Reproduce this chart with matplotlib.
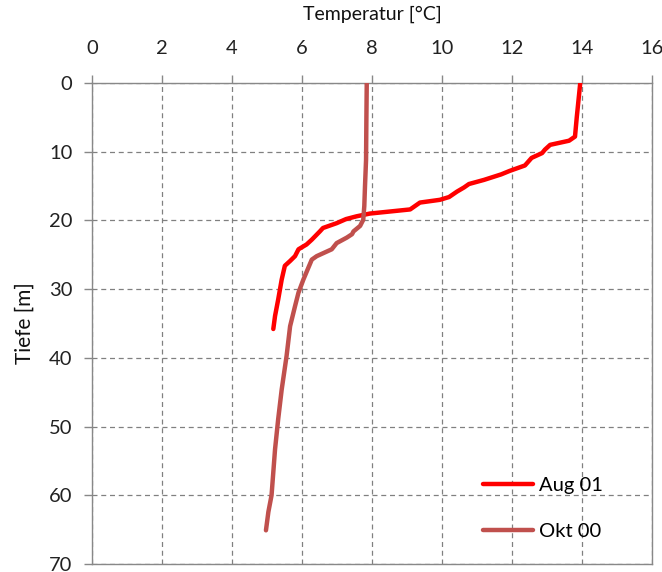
import matplotlib
matplotlib.use('Agg')
import matplotlib.pyplot as plt

# Aug 01 profile: temperature [°C] vs depth [m]
aug_temp = [13.95, 13.9, 13.85, 13.8, 13.63, 13.09, 12.94, 12.86, 12.56, 12.37, 11.93, 11.69,
            11.2, 10.77, 10.63, 10.43, 10.2, 9.94, 9.37, 9.23, 9.09, 7.94, 7.56, 7.26, 6.99,
            6.6, 6.51, 6.28, 6.13, 5.9, 5.8, 5.66, 5.51, 5.42, 5.32, 5.23, 5.18]
aug_depth = [0.0, 2.5, 5.0, 7.8, 8.4, 9.0, 9.7, 10.2, 10.9, 12.0, 12.8, 13.3,
             14.1, 14.7, 15.2, 15.8, 16.6, 17.0, 17.4, 17.9, 18.4, 19.0, 19.4, 19.8, 20.4,
             21.1, 21.6, 22.8, 23.5, 24.2, 25.2, 25.9, 26.6, 28.6, 31.5, 33.9, 35.8]

# Okt 00 profile
okt_temp = [7.85, 7.84, 7.83, 7.8, 7.78, 7.75, 7.66, 7.47, 7.43, 7.28, 6.99, 6.85, 6.42,
            6.28, 6.18, 6.04, 5.9, 5.8, 5.66, 5.56, 5.42, 5.32, 5.23, 5.13, 5.04, 4.97]
okt_depth = [0.0, 5.0, 11.2, 15.0, 17.9, 19.9, 20.8, 21.6, 22.0, 22.5, 23.3, 24.2, 25.2,
             25.7, 26.9, 28.6, 30.5, 32.5, 35.4, 39.7, 44.6, 48.9, 53.3, 60.0, 62.4, 65.1]

x_ticks = list(range(0, 17, 2))
y_ticks = list(range(0, 71, 10))

plt.rcParams['font.family'] = ['Lato', 'DejaVu Sans']

fig = plt.figure(figsize=(6.62, 5.72), dpi=100)
ax = fig.add_axes([92 / 662, 8 / 572, 560 / 662, 481 / 572])

ax.plot(aug_temp, aug_depth, color='#FF0000', lw=3.2, solid_capstyle='round',
        label='Aug 01', zorder=3)
ax.plot(okt_temp, okt_depth, color='#C0504D', lw=3.2, solid_capstyle='round',
        label='Okt 00', zorder=3)

ax.set_xlim(0, 16)
ax.set_ylim(70, 0)
ax.set_xticks(x_ticks)
ax.set_yticks(y_ticks)
ax.xaxis.tick_top()
ax.xaxis.set_label_position('top')
ax.set_xlabel('Temperatur [°C]', fontsize=14, color='#111111', labelpad=14)
ax.set_ylabel('Tiefe [m]', fontsize=15, color='#111111', labelpad=10)

ax.grid(True, color='#808080', ls=(0, (4, 3)), lw=0.9)
for s in ax.spines.values():
    s.set_color('#888888')
    s.set_linewidth(1.0)
ax.tick_params(axis='both', direction='out', length=6, width=1, color='#888888',
               labelsize=14.5, labelcolor='#222222')
ax.tick_params(axis='x', pad=13)
ax.tick_params(axis='y', pad=8)

ax.legend(loc='lower right', bbox_to_anchor=(0.945, 0.012), frameon=False, fontsize=14.5,
          handlelength=2.5, handletextpad=0.3, labelspacing=1.45)

fig.savefig('out.png', dpi=100)
